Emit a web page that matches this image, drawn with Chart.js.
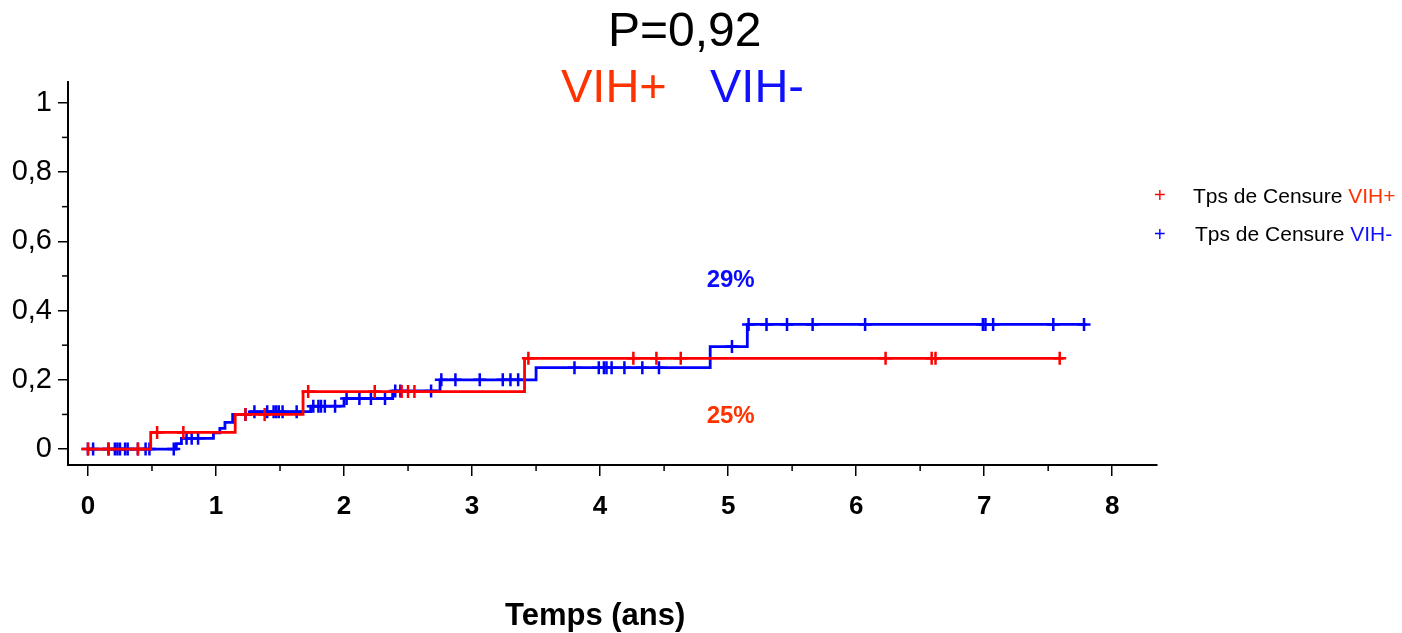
<!DOCTYPE html>
<html>
<head>
<meta charset="utf-8">
<script src="https://cdn.jsdelivr.net/npm/chart.js@4.4.1/dist/chart.umd.min.js"></script>
<style>
body { margin: 0; background: #fff; font-family: 'Liberation Sans', Arial, sans-serif; }
#wrap { position: relative; width: 1402px; height: 633px; }
.t { position: absolute; white-space: nowrap; color: #000; }
</style>
</head>
<body>
<div id="wrap">
  <canvas id="kmChart" width="1402" height="633"></canvas>
  <div class="t" style="left:608px;top:6px;font-size:48px;line-height:48px;">P=0,92</div>
  <div class="t" style="left:561px;top:63px;font-size:47px;line-height:46px;color:#ff3300;">VIH+</div>
  <div class="t" style="left:710px;top:63px;font-size:47px;line-height:46px;color:#1010ff;">VIH-</div>
  <div class="t" style="left:1154px;top:185px;font-size:20px;line-height:20px;color:#ff0000;">+</div>
  <div class="t" style="left:1193px;top:185px;font-size:21px;line-height:21px;">Tps de Censure <span style="color:#ff3300">VIH+</span></div>
  <div class="t" style="left:1154px;top:224px;font-size:20px;line-height:20px;color:#0000ff;">+</div>
  <div class="t" style="left:1195px;top:223px;font-size:21px;line-height:21px;">Tps de Censure <span style="color:#1010ff">VIH-</span></div>
  <div class="t" style="left:505px;top:599px;font-size:31px;line-height:31px;font-weight:bold;">Temps (ans)</div>
</div>
<script>
// courbes de Kaplan-Meier (incidence cumulee)
var vihPosTimes  = [0, 0.49, 1.15, 1.68, 3.41, 7.62];
var vihPosValues = [0, 0.048, 0.100, 0.166, 0.262, 0.262];

var vihNegTimes  = [0, 0.69, 0.73, 0.98, 1.03, 1.07, 1.13, 1.27, 1.74, 2.00, 2.38, 2.75, 3.50, 4.86, 5.15, 7.80];
var vihNegValues = [0, 0.016, 0.031, 0.047, 0.060, 0.077, 0.100, 0.108, 0.124, 0.146, 0.168, 0.200, 0.235, 0.296, 0.360, 0.360];

// temps de censure
var vihPosCensor = [0, 0.16, 0.39, 0.54, 0.745, 1.23, 1.38, 1.72, 2.24, 2.45, 2.50, 2.55, 3.44, 4.26, 4.44, 4.63, 6.23, 6.59, 6.62, 7.59];
var vihNegCensor = [0.0, 0.04, 0.16, 0.21, 0.23, 0.25, 0.29, 0.31, 0.39, 0.45, 0.48, 0.67, 0.77, 0.81, 0.86,
    1.23, 1.30, 1.40, 1.45, 1.47, 1.49, 1.52, 1.63, 1.76, 1.80, 1.82, 1.85, 1.93, 2.02, 2.12, 2.21, 2.32,
    2.40, 2.44, 2.68, 2.76, 2.87, 3.06, 3.24, 3.30, 3.36, 3.80, 3.99, 4.03, 4.05, 4.09, 4.19, 4.33, 4.46,
    5.03, 5.16, 5.30, 5.46, 5.66, 6.07, 6.99, 7.01, 7.07, 7.54, 7.78];

var xTicks = [0, 1, 2, 3, 4, 5, 6, 7, 8];
var xMinorTicks = [0.5, 1.5, 2.5, 3.5, 4.5, 5.5, 6.5, 7.5];
var yTicks = [0, 0.2, 0.4, 0.6, 0.8, 1];
var yMinorTicks = [0.1, 0.3, 0.5, 0.7, 0.9];

var RED = '#ff0000';
var BLUE = '#0000ff';
var FONT = "'Liberation Sans', Arial, sans-serif";

function toPoints(times, values) {
    return times.map(function (t, i) { return { x: t, y: values[i] }; });
}
// une croix de censure se place sur le palier de la courbe
function levelAt(times, values, t) {
    var v = values[0];
    for (var i = 0; i < times.length; i++) {
        if (times[i] <= t) v = values[i];
    }
    return v;
}
function censorPoints(censor, times, values) {
    return censor.map(function (t) { return { x: t, y: levelAt(times, values, t) }; });
}

var notes = [
    { text: '29%', x: 5.02, y: 0.486, color: '#0a0aff' },
    { text: '25%', x: 5.02, y: 0.095, color: '#ff3300' }
];

var extras = {
    id: 'extras',
    afterDraw: function (chart) {
        var ctx = chart.ctx;
        var xs = chart.scales.x, ys = chart.scales.y;
        var area = chart.chartArea;
        ctx.save();
        ctx.strokeStyle = '#000';
        ctx.lineWidth = 1.5;
        xMinorTicks.forEach(function (v) {
            var px = xs.getPixelForValue(v);
            ctx.beginPath();
            ctx.moveTo(px, area.bottom);
            ctx.lineTo(px, area.bottom + 6);
            ctx.stroke();
        });
        yMinorTicks.forEach(function (v) {
            var py = ys.getPixelForValue(v);
            ctx.beginPath();
            ctx.moveTo(area.left - 6, py);
            ctx.lineTo(area.left, py);
            ctx.stroke();
        });
        ctx.font = 'bold 24px ' + FONT;
        ctx.textAlign = 'center';
        ctx.textBaseline = 'middle';
        notes.forEach(function (n) {
            ctx.fillStyle = n.color;
            ctx.fillText(n.text, xs.getPixelForValue(n.x), ys.getPixelForValue(n.y));
        });
        ctx.restore();
    }
};

var ctxK = document.getElementById('kmChart').getContext('2d');
var kmChart = new Chart(ctxK, {
    type: 'scatter',
    data: {
        datasets: [{
            label: 'Tps de Censure VIH+',
            data: censorPoints(vihPosCensor, vihPosTimes, vihPosValues),
            pointStyle: 'cross',
            pointRadius: 6.5,
            pointBorderWidth: 2.5,
            borderColor: RED,
            showLine: false,
            order: 1
        }, {
            label: 'VIH+',
            data: toPoints(vihPosTimes, vihPosValues),
            showLine: true,
            stepped: true,
            borderColor: RED,
            borderWidth: 2.8,
            pointRadius: 0,
            order: 2
        }, {
            label: 'Tps de Censure VIH-',
            data: censorPoints(vihNegCensor, vihNegTimes, vihNegValues),
            pointStyle: 'cross',
            pointRadius: 6.5,
            pointBorderWidth: 2.5,
            borderColor: BLUE,
            showLine: false,
            order: 3
        }, {
            label: 'VIH-',
            data: toPoints(vihNegTimes, vihNegValues),
            showLine: true,
            stepped: true,
            borderColor: BLUE,
            borderWidth: 2.8,
            pointRadius: 0,
            order: 4
        }]
    },
    options: {
        responsive: false,
        animation: false,
        layout: { padding: { top: 82, right: 245, left: 0, bottom: 0 } },
        plugins: {
            legend: { display: false },
            tooltip: { enabled: false }
        },
        scales: {
            x: {
                type: 'linear',
                min: -0.156,
                max: 8.35,
                afterBuildTicks: function (s) { s.ticks = xTicks.map(function (v) { return { value: v }; }); },
                afterFit: function (s) { s.height = 168; },
                ticks: {
                    color: '#000',
                    padding: 15,
                    font: { family: FONT, size: 26, weight: 'bold' }
                },
                grid: { drawOnChartArea: false, tickLength: 11, color: '#000', lineWidth: 1.5 },
                border: { color: '#000', width: 2 }
            },
            y: {
                type: 'linear',
                min: -0.046,
                max: 1.06,
                afterBuildTicks: function (s) { s.ticks = yTicks.map(function (v) { return { value: v }; }); },
                afterFit: function (s) { s.width = 68; },
                ticks: {
                    color: '#000',
                    padding: 6,
                    font: { family: FONT, size: 29 },
                    callback: function (v) { return String(Math.round(v * 10) / 10).replace('.', ','); }
                },
                grid: { drawOnChartArea: false, tickLength: 10, color: '#000', lineWidth: 1.5 },
                border: { color: '#000', width: 2 }
            }
        }
    },
    plugins: [extras]
});
</script>
</body>
</html>
